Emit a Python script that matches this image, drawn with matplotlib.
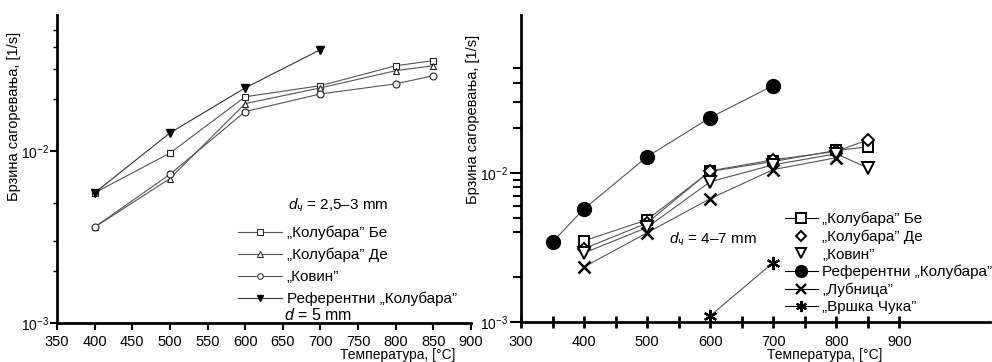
import matplotlib
matplotlib.use("Agg")
import matplotlib.pyplot as plt
from matplotlib.lines import Line2D
import numpy as np

plt.rcParams['font.family'] = ['Liberation Sans', 'DejaVu Sans']
plt.rcParams['mathtext.fontset'] = 'custom'
plt.rcParams['mathtext.rm'] = 'Liberation Sans'
plt.rcParams['mathtext.it'] = 'Liberation Sans:italic'

# ---------------- data: left panel (d = 2.5-3 mm) ----------------
T_left = [400, 500, 600, 700, 800, 850]
be_left = [0.0057, 0.0097, 0.0206, 0.0239, 0.0312, 0.0334]
de_left = [0.0036, 0.0069, 0.0188, 0.0232, 0.0292, 0.0312]
kovin_left = [0.00361, 0.0073, 0.0169, 0.0214, 0.0245, 0.0273]
T_ref_left = [400, 500, 600, 700]
ref_left = [0.0057, 0.0127, 0.0232, 0.0387]

# ---------------- data: right panel (d = 4-7 mm) ----------------
T_right = [400, 500, 600, 700, 800, 850]
be_right = [0.0035, 0.00484, 0.0102, 0.0119, 0.0141, 0.0149]
de_right = [0.0031, 0.0046, 0.0103, 0.0122, 0.0139, 0.0166]
kovin_right = [0.0029, 0.0043, 0.0087, 0.0113, 0.0134, 0.0108]
T_ref_right = [350, 400, 500, 600, 700]
ref_right = [0.00344, 0.00573, 0.0128, 0.0234, 0.0384]
T_lub = [400, 500, 600, 700, 800]
lub_right = [0.00234, 0.00396, 0.0067, 0.0105, 0.0126]
T_vc = [600, 700]
vc_right = [0.0011, 0.0025]

ylabel = "Брзина сагоревања, [1/s]"
xlabel = "Температура, [°C]"
lab_be = "„Колубара” Бе"
lab_de = "„Колубара” Де"
lab_kov = "„Ковин”"
lab_ref = "Референтни „Колубара”"
lab_lub = "„Лубница”"
lab_vc = "„Вршка Чука”"

W, H = 992, 362
fig = plt.figure(figsize=(W / 100, H / 100), dpi=100)

def pax(x0, y_top, x1, y_bot):
    return fig.add_axes([x0 / W, 1 - y_bot / H, (x1 - x0) / W, (y_bot - y_top) / H])

lc = '#555555'
fs = 10.5
yfs = 10
lfs = 11
xfs = 10

# ---------------- left axes ----------------
ax1 = pax(57, 15, 471, 323)
ax1.set_yscale('log')
ax1.plot(T_left, be_left, '-', color=lc, lw=0.8, marker='s', ms=5, mfc='white', mec='#222222', mew=0.8)
ax1.plot(T_left, de_left, '-', color=lc, lw=0.8, marker='^', ms=5, mfc='white', mec='#222222', mew=0.8)
ax1.plot(T_left, kovin_left, '-', color=lc, lw=0.8, marker='o', ms=5, mfc='white', mec='#222222', mew=0.8)
ax1.plot(T_ref_left, ref_left, '-', color='#333333', lw=0.8, marker='v', ms=6, mfc='black', mec='black')
ax1.set_xlim(350, 900)
ax1.set_ylim(1e-3, 0.0615)
ax1.set_xticks(np.arange(350, 901, 50))
ax1.set_yticks([1e-3, 1e-2])
ax1.set_yticks([0.002, 0.003, 0.005, 0.02, 0.03, 0.04, 0.05], minor=True)
ax1.yaxis.set_minor_formatter(plt.NullFormatter())
ax1.set_yticklabels([r'$10^{-3}$', r'$10^{-2}$'])
for s in ['top', 'right']:
    ax1.spines[s].set_visible(False)
for s in ['left', 'bottom']:
    ax1.spines[s].set_linewidth(2)
ax1.tick_params(axis='x', which='major', direction='out', length=5, width=1.5, labelsize=fs, pad=3.5)
ax1.tick_params(axis='y', which='major', direction='out', length=5, width=1.5, labelsize=yfs, pad=1)
ax1.tick_params(axis='y', which='minor', direction='out', length=3, width=1)
ax1.set_ylabel(ylabel, fontsize=fs)
ax1.yaxis.set_label_coords(-0.088, 0.67)

h1 = [Line2D([], [], color=lc, lw=0.8, marker='s', ms=4, mfc='white', mec='#222222', mew=0.7),
      Line2D([], [], color=lc, lw=0.8, marker='^', ms=4, mfc='white', mec='#222222', mew=0.7),
      Line2D([], [], color=lc, lw=0.8, marker='o', ms=4, mfc='white', mec='#222222', mew=0.7),
      Line2D([], [], color='#333333', lw=0.8, marker='v', ms=5, mfc='black', mec='black')]
leg1 = ax1.legend(h1, [lab_be, lab_de, lab_kov, lab_ref], loc='upper left',
                  bbox_to_anchor=((238 - 57) / 414, (323 - 226) / 308), frameon=False,
                  fontsize=lfs, handlelength=2.9, handletextpad=0.3, labelspacing=0.5,
                  borderpad=0, borderaxespad=0)
fig.text(284 / W, 1 - 315 / H, r'$d$ = 5 mm', fontsize=lfs + 0.5, va='center', ha='left')
fig.text(338 / W, 1 - 205 / H, r'$d_{ч}$ = 2,5–3 mm', fontsize=lfs, va='center', ha='center')
fig.text(455 / W, 1 - 359 / H, xlabel, fontsize=xfs, ha='right', va='baseline')

# ---------------- right axes ----------------
ax2 = pax(521, 15, 990, 322)
ax2.set_yscale('log')
ax2.plot(T_right, be_right, '-', color=lc, lw=0.8, marker='s', ms=7.5, mfc='white', mec='black', mew=1.4)
ax2.plot(T_right, de_right, '-', color=lc, lw=0.8, marker='D', ms=6.5, mfc='white', mec='black', mew=1.4)
ax2.plot(T_right, kovin_right, '-', color=lc, lw=0.8, marker='v', ms=8, mfc='white', mec='black', mew=1.4)
ax2.plot(T_ref_right, ref_right, '-', color=lc, lw=0.8, marker='o', ms=10, mfc='black', mec='black')
ax2.plot(T_lub, lub_right, '-', color=lc, lw=0.8, marker='x', ms=8.5, mec='black', mew=1.8)
ax2.plot(T_vc, vc_right, '-', color=lc, lw=0.8, marker=(6, 2, 0), ms=9.5, mec='black', mew=1.6)
ax2.set_xlim(300, 1044)
ax2.set_ylim(1e-3, 0.114)
ax2.set_xticks(np.arange(300, 901, 100))
ax2.set_xticks(np.arange(350, 851, 100), minor=True)
ax2.set_yticks([1e-3, 1e-2])
ax2.set_yticks([0.002, 0.004, 0.005, 0.006, 0.007, 0.008, 0.009, 0.02, 0.03, 0.04, 0.05], minor=True)
ax2.yaxis.set_minor_formatter(plt.NullFormatter())
ax2.set_yticklabels([r'$10^{-3}$', r'$10^{-2}$'])
for s in ['top', 'right']:
    ax2.spines[s].set_visible(False)
for s in ['left', 'bottom']:
    ax2.spines[s].set_linewidth(2)
ax2.tick_params(axis='x', which='both', direction='inout', length=8, width=2, labelsize=fs, pad=5.5)
ax2.tick_params(axis='y', which='major', direction='out', length=8, width=1.5, labelsize=yfs, pad=1)
ax2.tick_params(axis='y', which='minor', direction='out', length=6, width=1.5)
ax2.set_ylabel(ylabel, fontsize=fs)
ax2.yaxis.set_label_coords(-0.088, 0.66)

h2 = [Line2D([], [], color='black', lw=0.8, marker='s', ms=6.5, mfc='white', mec='black', mew=1.4),
      Line2D([], [], ls='none', marker='D', ms=5.5, mfc='white', mec='black', mew=1.4),
      Line2D([], [], ls='none', marker='v', ms=7, mfc='white', mec='black', mew=1.4),
      Line2D([], [], color='black', lw=0.8, marker='o', ms=8.5, mfc='black', mec='black'),
      Line2D([], [], color='black', lw=0.8, marker='x', ms=7, mec='black', mew=1.7),
      Line2D([], [], color='black', lw=0.8, marker=(6, 2, 0), ms=8, mec='black', mew=1.5)]
leg2 = ax2.legend(h2, [lab_be, lab_de, lab_kov, lab_ref, lab_lub, lab_vc], loc='upper left',
                  bbox_to_anchor=((785 - 521) / 469, (322 - 212) / 307), frameon=False,
                  fontsize=lfs, handlelength=2.15, handletextpad=0.3, labelspacing=0.22,
                  borderpad=0, borderaxespad=0)
fig.text(713 / W, 1 - 239 / H, r'$d_{ч}$ = 4–7 mm', fontsize=lfs, va='center', ha='center')
fig.text(882 / W, 1 - 359 / H, xlabel, fontsize=xfs, ha='right', va='baseline')

fig.savefig('out.png', dpi=100)
